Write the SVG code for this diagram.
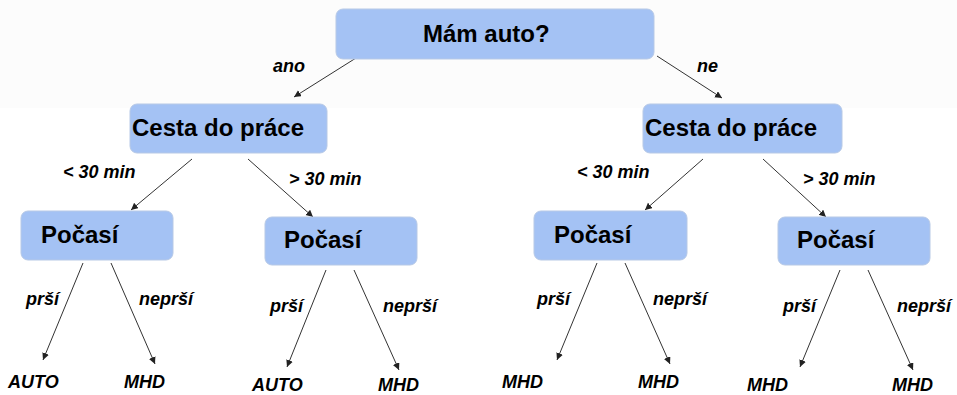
<svg xmlns="http://www.w3.org/2000/svg" width="957" height="395" viewBox="0 0 957 395">
<style>
.node{fill:#a4c2f4;stroke:#b7c9e6;stroke-width:1}
.nt{font-family:"Liberation Sans",Arial,sans-serif;font-weight:bold;font-size:24px;fill:#000}
.lbl{font-family:"Liberation Sans",Arial,sans-serif;font-weight:bold;font-style:italic;font-size:18px;fill:#000}
.edge{stroke:#333;stroke-width:1;fill:none;marker-end:url(#ah)}
</style>
<defs>
<marker id="ah" markerUnits="userSpaceOnUse" markerWidth="8" markerHeight="8" refX="7" refY="3.5" orient="auto">
<path d="M0,0 L7,3.5 L0,7 z" fill="#222"/>
</marker>
</defs>
<rect x="0" y="0" width="957" height="395" fill="#fff"/>
<rect x="0" y="0" width="957" height="108" fill="#fcfcfc"/>
<g id="connectors">
<line class="edge" x1="356" y1="58" x2="294" y2="97"/>
<line class="edge" x1="657" y1="56" x2="722" y2="98"/>
<line class="edge" x1="192" y1="159" x2="131" y2="210"/>
<line class="edge" x1="248" y1="159" x2="313" y2="217"/>
<line class="edge" x1="703" y1="159" x2="645" y2="210"/>
<line class="edge" x1="763" y1="159" x2="826" y2="217"/>
<line class="edge" x1="83" y1="263" x2="43" y2="360"/>
<line class="edge" x1="111" y1="263" x2="155" y2="364"/>
<line class="edge" x1="326" y1="270" x2="287" y2="367"/>
<line class="edge" x1="354" y1="270" x2="399" y2="370"/>
<line class="edge" x1="597" y1="263" x2="557" y2="360"/>
<line class="edge" x1="625" y1="263" x2="670" y2="364"/>
<line class="edge" x1="840" y1="270" x2="800" y2="367"/>
<line class="edge" x1="868" y1="270" x2="913" y2="370"/>
<text class="lbl" x="273" y="72">ano</text>
<text class="lbl" x="697" y="72">ne</text>
<text class="lbl" x="63" y="178">&lt; 30 min</text>
<text class="lbl" x="289" y="185">&gt; 30 min</text>
<text class="lbl" x="577" y="178">&lt; 30 min</text>
<text class="lbl" x="803" y="185">&gt; 30 min</text>
<text class="lbl" x="26" y="305">prší</text>
<text class="lbl" x="139" y="305">neprší</text>
<text class="lbl" x="270" y="312">prší</text>
<text class="lbl" x="383" y="312">neprší</text>
<text class="lbl" x="537" y="305">prší</text>
<text class="lbl" x="653" y="305">neprší</text>
<text class="lbl" x="783" y="312">prší</text>
<text class="lbl" x="897" y="312">neprší</text>
</g>
<g id="root"><rect class="node" x="336" y="9" width="318" height="50" rx="7"/><text class="nt" x="423" y="42">Mám auto?</text></g>
<g id="cesta-ano"><rect class="node" x="130" y="104" width="197" height="49" rx="7"/><text class="nt" x="132" y="136">Cesta do práce</text></g>
<g id="cesta-ne"><rect class="node" x="643" y="104" width="199" height="49" rx="7"/><text class="nt" x="645" y="136">Cesta do práce</text></g>
<g id="pocasi-1"><rect class="node" x="21" y="211" width="152" height="49" rx="7"/><text class="nt" x="41" y="243">Počasí</text></g>
<g id="pocasi-2"><rect class="node" x="265" y="217" width="152" height="48" rx="7"/><text class="nt" x="284" y="248">Počasí</text></g>
<g id="pocasi-3"><rect class="node" x="534" y="211" width="153" height="49" rx="7"/><text class="nt" x="554" y="243">Počasí</text></g>
<g id="pocasi-4"><rect class="node" x="778" y="217" width="152" height="48" rx="7"/><text class="nt" x="797" y="248">Počasí</text></g>
<g id="leaf-1"><text class="lbl" x="8" y="388">AUTO</text></g>
<g id="leaf-2"><text class="lbl" x="124" y="388">MHD</text></g>
<g id="leaf-3"><text class="lbl" x="252" y="391">AUTO</text></g>
<g id="leaf-4"><text class="lbl" x="378" y="391">MHD</text></g>
<g id="leaf-5"><text class="lbl" x="502" y="388">MHD</text></g>
<g id="leaf-6"><text class="lbl" x="638" y="388">MHD</text></g>
<g id="leaf-7"><text class="lbl" x="747" y="391">MHD</text></g>
<g id="leaf-8"><text class="lbl" x="892" y="391">MHD</text></g>
</svg>
